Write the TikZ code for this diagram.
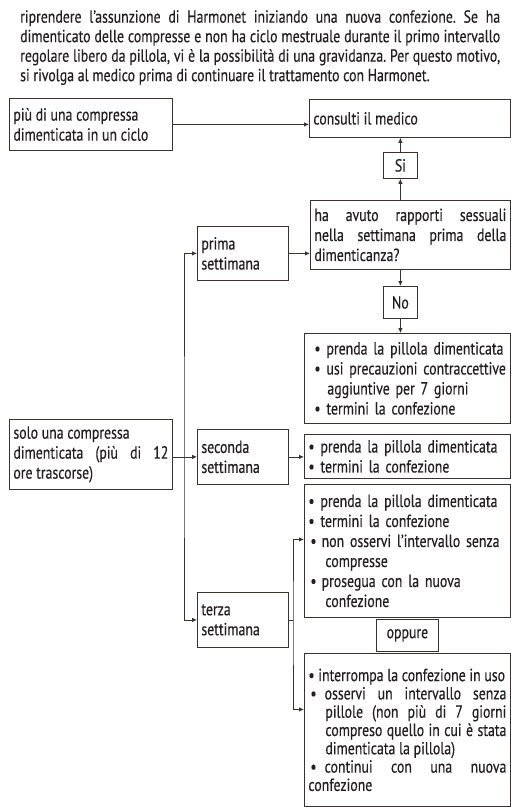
\documentclass[tikz,border=0pt]{standalone}
\usepackage{fontspec}
\usepackage{tikz}
\usetikzlibrary{arrows.meta}
\newfontfamily\testo{PT Sans}[FakeStretch=0.79,FakeBold=0.4]
\frenchspacing
\definecolor{tratto}{RGB}{58,52,46}
\definecolor{inchiostro}{RGB}{35,31,32}
\tikzstyle{casella} = [draw=tratto, line width=0.8pt, anchor=north west, inner xsep=4pt, inner ysep=0pt, align=justify, text=inchiostro, font=\testo\fontsize{17.5}{20}\selectfont]
\tikzstyle{scelta} = [casella, align=center, inner xsep=0pt]
\tikzstyle{freccia} = [draw=tratto, line width=0.8pt, -{Latex[length=5pt,width=4.5pt]}]
\tikzstyle{doppia} = [draw=tratto, line width=0.8pt, {Latex[length=5pt,width=4.5pt]}-{Latex[length=5pt,width=4.5pt]}]
\tikzstyle{linea} = [draw=tratto, line width=0.8pt]

\begin{document}
\begin{tikzpicture}[x=1pt,y=-1pt]
	\useasboundingbox (0,0) rectangle (511,807);
	\node[anchor=north west, inner sep=0pt, text width=480pt, align=justify, text=inchiostro, font=\testo\fontsize{17.5}{19.5}\selectfont\frenchspacing] (avviso) at (20,10) {riprendere l’assunzione di Harmonet iniziando una nuova confezione. Se ha\linebreak dimenticato delle compresse e non ha ciclo mestruale durante il primo intervallo\linebreak regolare libero da pillola, vi è la possibilità di una gravidanza. Per questo motivo,\linebreak si rivolga al medico prima di continuare il trattamento con Harmonet.};

	\node[casella, text width=155pt, minimum height=52pt] (piu) at (9,98) {più di una compressa\\dimenticata in un ciclo};
	\node[casella, text width=193pt, minimum height=38pt] (medico) at (309,99) {consulti il medico};
	\node[scelta, minimum width=34pt, minimum height=26pt] (si) at (383,152) {Si};
	\node[casella, text width=192pt, minimum height=69pt] (domanda) at (310,200) {ha avuto rapporti sessuali\linebreak nella settimana prima della\linebreak dimenticanza?};
	\node[casella, text width=83pt, minimum height=54pt] (prima) at (197,226) {prima\\settimana};
	\node[scelta, minimum width=34pt, minimum height=32pt] (no) at (383,286) {No};
	\node[casella, inner xsep=0pt, text width=206pt, minimum height=90pt, align=left] (lista1) at (304,333) {
		\hspace*{10pt}\textbullet\ prenda la pillola dimenticata\\
		\hspace*{10pt}\textbullet\ usi precauzioni contraccettive\\
		\hspace*{23pt}aggiuntive per 7 giorni\\
		\hspace*{10pt}\textbullet\ termini la confezione};

	\node[casella, text width=155pt, minimum height=70pt] (solo) at (9,419) {solo una compressa\\dimenticata (più di 12\linebreak ore trascorse)};
	\node[casella, text width=83pt, minimum height=55pt] (seconda) at (197,429) {seconda\\settimana};
	\node[casella, text width=198pt, minimum height=44pt, align=left] (lista2) at (304,434) {\textbullet\ prenda la pillola dimenticata\\\textbullet\ termini la confezione};

	\node[casella, text width=198pt, minimum height=133pt, align=left] (lista3) at (304,484) {
		\textbullet\ prenda la pillola dimenticata\\
		\textbullet\ termini la confezione\\
		\hspace*{2pt}\textbullet\hspace{5pt}non osservi l’intervallo senza\\
		\hspace*{17pt}compresse\\
		\hspace*{2pt}\textbullet\hspace{5pt}prosegua con la nuova\\
		\hspace*{17pt}confezione};
	\node[casella, text width=83pt, minimum height=55pt] (terza) at (197,592) {terza\\settimana};
	\node[scelta, minimum width=62pt, minimum height=32pt] (oppure) at (376,619) {oppure};
	\node[casella, text width=198pt, minimum height=153pt, font=\testo\fontsize{17.5}{18.3}\selectfont] (lista5) at (304,653) {
		\textbullet\ interrompa la confezione in uso\par
		\noindent\hangindent=17pt\hangafter=1\hspace*{2pt}\textbullet\hspace{8pt}osservi un intervallo senza\linebreak pillole (non più di 7 giorni\linebreak compreso quello in cui è stata\linebreak dimenticata la pillola)\par
		\noindent\hangindent=17pt\hangafter=1\hspace*{2pt}\textbullet\hspace{8pt}continui con una nuova\linebreak confezione};

	% collegamenti
	\coordinate (tronco) at (184,457);
	\coordinate (ramo) at (293,621);
	\draw[freccia] (piu.east) -- (piu.east -| medico.west);
	\draw[freccia] (si.north) -- (si.north |- medico.south);
	\draw[freccia] (si.south |- domanda.north) -- (si.south);
	\draw[freccia] (prima.east) -- (prima.east -| domanda.west);
	\draw[freccia] (no.north |- domanda.south) -- (no.north);
	\draw[freccia] (no.south) -- (no.south |- lista1.north);
	\draw[doppia] (prima.west) -| (tronco) |- (terza.west);
	\draw[freccia] (solo.east |- seconda.west) -- (seconda.west);
	\draw[freccia] (seconda.east) -- (seconda.east -| lista2.west);
	\draw[linea] (terza.east) -- (terza.east -| ramo);
	\draw[doppia] ([yshift=11.5pt]lista3.west) -| (ramo) |- ([yshift=20.5pt]lista5.west);
\end{tikzpicture}
\end{document}
